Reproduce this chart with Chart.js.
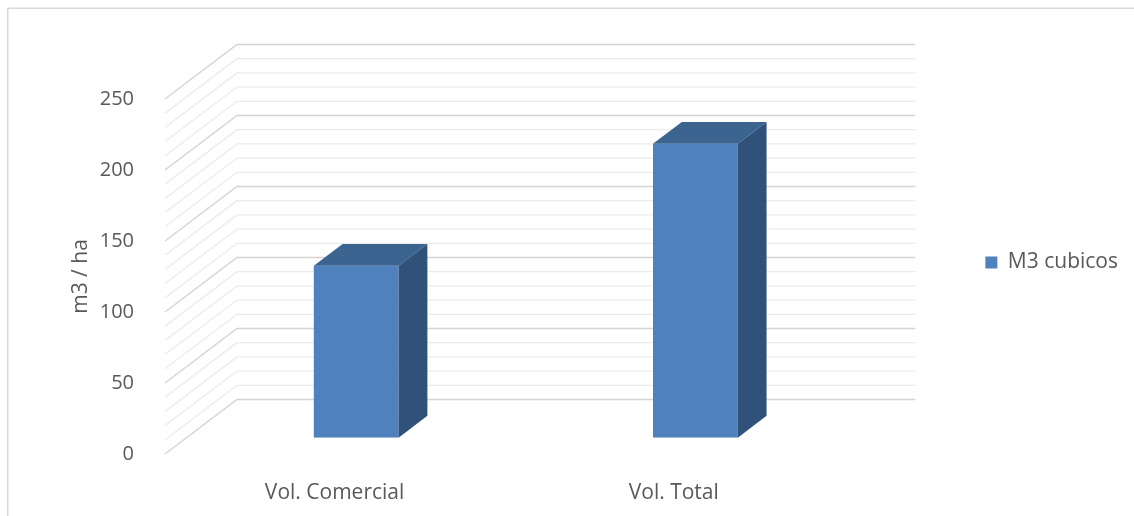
<!DOCTYPE html>
<html>
<head>
<meta charset="utf-8">
<script src="https://cdn.jsdelivr.net/npm/chart.js@4.4.1/dist/chart.umd.min.js"></script>
<style>
  html, body { margin: 0; padding: 0; background: #fff; }
  canvas { display: block; }
</style>
</head>
<body>
<canvas id="volChart" width="1134" height="516"></canvas>
<script>
// data
const categories = ['Vol. Comercial', 'Vol. Total'];
const volumes = [121, 207];
const seriesName = 'M3 cubicos';
const yTicks = [0, 50, 100, 150, 200, 250];
const yMinorStep = 10;

// fake 3D: offset from front plane to back wall
const DEPTH_X = 72, DEPTH_Y = -54.5;
const BAR_FRONT = 0.3;   // bar front face sits 30% into the depth
const BAR_DEPTH = 0.4;   // bar is 40% of the depth deep

const textColor = '#595959';
const barFront = '#4F81BD';
const barTop = '#3C6490';
const barSide = '#30517A';

Chart.defaults.font.family = '"Open Sans", sans-serif';
Chart.defaults.font.size = 20;
Chart.defaults.color = textColor;

const frame = {
    id: 'frame',
    beforeDraw(chart) {
        const ctx = chart.ctx;
        ctx.save();
        ctx.fillStyle = '#fff';
        ctx.fillRect(0, 0, chart.width, chart.height);
        ctx.strokeStyle = '#d9d9d9';
        ctx.lineWidth = 1.5;
        ctx.strokeRect(7.75, 8.25, chart.width + 10, chart.height + 10);
        ctx.restore();
    }
};

const box3d = {
    id: 'box3d',
    beforeDatasetsDraw(chart) {
        const {ctx, chartArea: a, scales: {y}} = chart;
        ctx.save();
        for (let v = yTicks[0]; v <= yTicks[yTicks.length - 1]; v += yMinorStep) {
            const py = y.getPixelForValue(v);
            const major = yTicks.includes(v);
            ctx.strokeStyle = major ? '#d4d4d4' : '#ebebeb';
            ctx.lineWidth = major ? 1.4 : 1.3;
            ctx.beginPath();
            ctx.moveTo(a.left, py);
            ctx.lineTo(a.left + DEPTH_X, py + DEPTH_Y);
            ctx.lineTo(a.right + DEPTH_X, py + DEPTH_Y);
            ctx.stroke();
        }
        ctx.restore();
        // push the bars back into the box
        ctx.save();
        ctx.translate(DEPTH_X * BAR_FRONT, DEPTH_Y * BAR_FRONT);
    },
    afterDatasetsDraw(chart) {
        const ctx = chart.ctx;
        ctx.restore();
        const ox = DEPTH_X * BAR_FRONT, oy = DEPTH_Y * BAR_FRONT;
        const dx = DEPTH_X * BAR_DEPTH, dy = DEPTH_Y * BAR_DEPTH;
        ctx.save();
        chart.getDatasetMeta(0).data.forEach(bar => {
            const {x, y, base, width} = bar.getProps(['x', 'y', 'base', 'width'], true);
            const x0 = x - width / 2 + ox, x1 = x + width / 2 + ox;
            const yt = y + oy, yb = base + oy;
            ctx.fillStyle = barTop;
            ctx.beginPath();
            ctx.moveTo(x0, yt);
            ctx.lineTo(x0 + dx, yt + dy);
            ctx.lineTo(x1 + dx, yt + dy);
            ctx.lineTo(x1, yt);
            ctx.closePath();
            ctx.fill();
            ctx.fillStyle = barSide;
            ctx.beginPath();
            ctx.moveTo(x1, yt);
            ctx.lineTo(x1 + dx, yt + dy);
            ctx.lineTo(x1 + dx, yb + dy);
            ctx.lineTo(x1, yb);
            ctx.closePath();
            ctx.fill();
        });
        ctx.restore();
    }
};

new Chart(document.getElementById('volChart'), {
    type: 'bar',
    data: {
        labels: categories,
        datasets: [{
            label: seriesName,
            data: volumes,
            backgroundColor: barFront,
            borderWidth: 0,
            barPercentage: 0.25,
            categoryPercentage: 1
        }]
    },
    options: {
        responsive: false,
        animation: false,
        layout: { padding: { top: 9, right: 6, bottom: 0, left: 0 } },
        plugins: {
            title: {
                display: true,
                text: ' ',
                fullSize: false,
                padding: { top: 66, bottom: 0 }
            },
            legend: {
                position: 'right',
                labels: { boxWidth: 12, boxHeight: 12, padding: 10, color: textColor, font: { size: 21 } }
            },
            tooltip: { enabled: false }
        },
        scales: {
            x: {
                grid: { display: false },
                border: { display: false },
                ticks: { padding: 18, maxRotation: 0, font: { size: 21 } },
                afterFit(s) { s.height = 62; }
            },
            y: {
                min: yTicks[0],
                max: yTicks[yTicks.length - 1],
                grid: { display: false },
                border: { display: false },
                ticks: { stepSize: yTicks[1] - yTicks[0], padding: 23 },
                title: { display: true, text: 'm3 / ha', font: { size: 21 }, padding: { top: 68, bottom: 0 } },
                afterFit(s) { s.width = 165; }
            },
            // empty spacer between the back wall and the legend
            gap: {
                type: 'linear',
                position: 'right',
                grid: { display: false },
                border: { display: false },
                ticks: { display: false },
                afterFit(s) { s.width = 132; }
            }
        }
    },
    plugins: [frame, box3d]
});
</script>
</body>
</html>
